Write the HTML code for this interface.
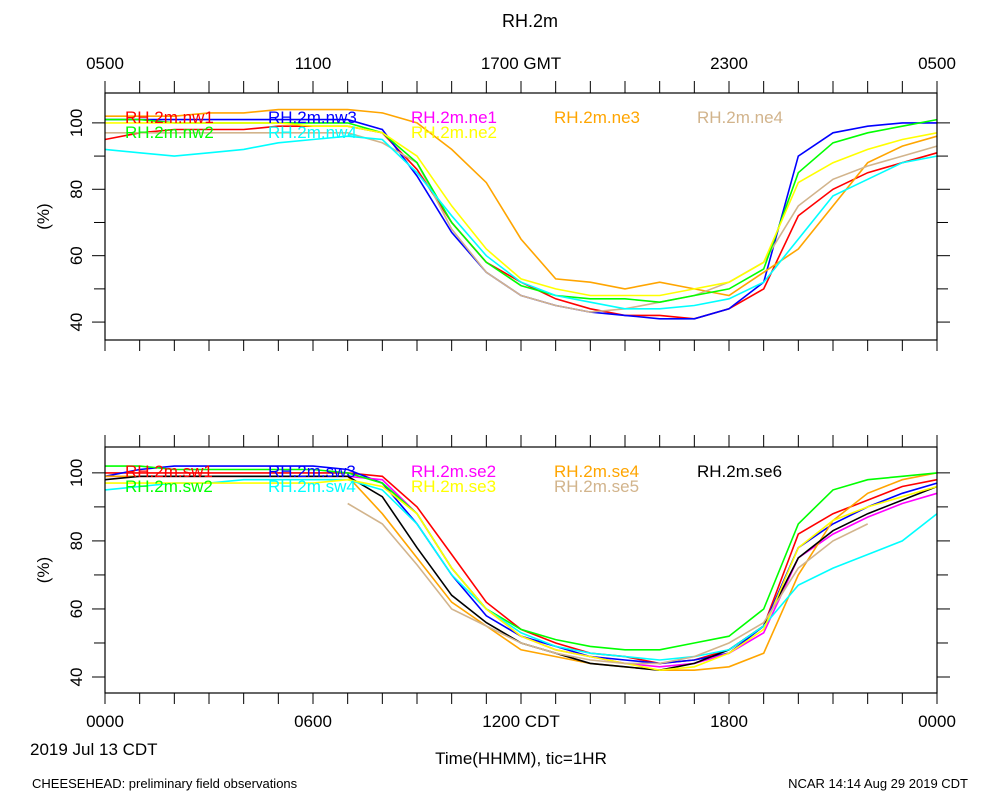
<!DOCTYPE html>
<html><head><meta charset="utf-8"><style>
body{margin:0;background:#fff;}
svg text{font-family:"Liberation Sans",sans-serif;}
</style></head><body>
<svg id="chart" width="1000" height="800" xmlns="http://www.w3.org/2000/svg">
<text x="530" y="27" font-size="18" text-anchor="middle">RH.2m</text>
<g id="topAxis"></g>
<g id="p1"></g><g id="p2"></g>
<text x="30" y="755" font-size="17">2019 Jul 13 CDT</text>
<text x="521" y="764" font-size="17" text-anchor="middle">Time(HHMM), tic=1HR</text>
<text x="32" y="788" font-size="13">CHEESEHEAD: preliminary field observations</text>
<text x="968" y="788" font-size="13" text-anchor="end">NCAR 14:14 Aug 29 2019 CDT</text>
</svg>
<script>
const hours=[0,1,2,3,4,5,6,7,8,9,10,11,12,13,14,15,16,17,18,19,20,21,22,23,24];
const bottomTickLabels=["0000","0600","1200 CDT","1800","0000"];
const topTickLabels=["0500","1100","1700 GMT","2300","0500"];
const yTicks=[40,60,80,100];
const yMinorTicks=[50,70,90];
const topNames=["RH.2m.nw1","RH.2m.nw3","RH.2m.ne1","RH.2m.ne3","RH.2m.ne4","RH.2m.nw2","RH.2m.nw4","RH.2m.ne2"];
const topColors=["#ff0000","#0000ff","#ff00ff","#ffa500","#d2b48c","#00ff00","#00ffff","#ffff00"];
const nw1=[95,97,98,98,98,99,99,99,97,86,70,58,52,47,44,42,42,41,44,50,72,80,85,88,91];
const nw3=[101,101,101,101,101,101,101,101,98,84,67,55,48,45,43,42,41,41,44,52,90,97,99,100,100];
const ne1=[null,null,null,null,null,null,null,null,null,null,null,null,null,null,null,null,null,null,null,null,null,null,null,null,null];
const ne3=[102,102,102,103,103,104,104,104,103,100,92,82,65,53,52,50,52,50,48,55,62,75,88,93,96];
const ne4=[97,97,97,97,97,97,97,97,94,88,68,55,48,45,43,44,46,48,52,58,75,83,87,90,93];
const nw2=[101,101,100,100,100,100,100,100,97,88,70,58,51,48,47,47,46,48,50,56,85,94,97,99,101];
const nw4=[92,91,90,91,92,94,95,96,95,85,72,60,52,48,46,44,44,45,47,52,65,78,83,88,90];
const ne2=[100,100,100,100,100,100,99,99,97,90,75,62,53,50,48,48,48,50,52,58,82,88,92,95,97];
const botNames=["RH.2m.sw1","RH.2m.sw3","RH.2m.se2","RH.2m.se4","RH.2m.se6","RH.2m.sw2","RH.2m.sw4","RH.2m.se3","RH.2m.se5"];
const botColors=["#ff0000","#0000ff","#ff00ff","#ffa500","#000000","#00ff00","#00ffff","#ffff00","#d2b48c"];
const sw1=[100,100,100,100,100,100,100,100,99,90,76,62,54,50,47,46,44,45,48,55,82,88,92,96,98];
const sw3=[99,101,102,102,102,102,102,101,97,85,70,58,52,49,46,45,44,45,47,55,78,85,90,94,97];
const se2=[99,99,99,99,99,99,99,99,98,88,72,60,52,48,46,44,43,44,47,53,75,82,87,91,94];
const se4=[99,99,99,99,99,99,99,99,88,75,62,55,48,46,44,43,42,42,43,47,70,86,94,98,100];
const se6=[98,99,99,99,99,99,99,99,93,78,64,56,50,47,44,43,42,44,48,55,75,83,88,92,96];
const sw2=[102,102,101,101,101,101,101,100,97,88,72,60,54,51,49,48,48,50,52,60,85,95,98,99,100];
const sw4=[95,96,97,97,98,98,98,98,95,85,70,60,53,49,47,46,45,46,48,55,67,72,76,80,88];
const se3=[97,97,97,97,97,97,97,98,96,88,72,60,52,48,46,44,42,43,47,54,78,86,90,93,96];
const se5=[null,null,null,null,null,null,null,91,85,73,60,55,50,47,45,44,44,46,50,56,72,80,85,null,null];
const topSeries=[nw1,nw3,ne1,ne3,ne4,nw2,nw4,ne2];
const botSeries=[sw1,sw3,se2,se4,se6,sw2,sw4,se3,se5];

const NS="http://www.w3.org/2000/svg";
const X0=105,X1=937;
function xs(h){return X0+(X1-X0)*h/24;}
function mk(parent,tag,attrs){const e=document.createElementNS(NS,tag);for(const k in attrs)e.setAttribute(k,attrs[k]);parent.appendChild(e);return e;}

function panel(g,top,bot,ymin,ymax,names,colors,series,legY,pname){
  const ys=v=>bot-(v-ymin)/(ymax-ymin)*(bot-top);
  for(let h=0;h<=24;h++){
    const t1=mk(g,'line',{x1:xs(h),x2:xs(h),y1:top,y2:top-12,stroke:'#000'});
    
    
    const t2=mk(g,'line',{x1:xs(h),x2:xs(h),y1:bot,y2:bot+11,stroke:'#000'});
    
    
  }
  yMinorTicks.forEach(v=>{
    const l=mk(g,'line',{x1:X0-11,x2:X0,y1:ys(v),y2:ys(v),stroke:'#000'});
    
    
    const r=mk(g,'line',{x1:X1,x2:X1+11,y1:ys(v),y2:ys(v),stroke:'#000'});
    
    
  });
  yTicks.forEach(v=>{
    const l=mk(g,'line',{x1:X0-13,x2:X0,y1:ys(v),y2:ys(v),stroke:'#000'});
    
    
    const r=mk(g,'line',{x1:X1,x2:X1+13,y1:ys(v),y2:ys(v),stroke:'#000'});
    
    
    const t=mk(g,'text',{x:X0-23,y:ys(v),'font-size':17,'text-anchor':'middle',transform:`rotate(-90 ${X0-23} ${ys(v)})`});
    t.textContent=v;
    
    
  });
  const yl=mk(g,'text',{x:49,y:(top+bot)/2,'font-size':17,'text-anchor':'middle',transform:`rotate(-90 49 ${(top+bot)/2})`});
  yl.textContent='(%)';
  
  
  series.forEach((s,i)=>{
    let d='',pen=false;
    s.forEach((v,j)=>{if(v==null){pen=false;return;}d+=(pen?'L':'M')+xs(hours[j]).toFixed(1)+','+ys(v).toFixed(1);pen=true;});
    if(d){const p=mk(g,'path',{d:d,fill:'none',stroke:colors[i],'stroke-width':1.6});
    
    }
  });
  names.forEach((n,i)=>{
    const col=i%5,row=Math.floor(i/5);
    const t=mk(g,'text',{x:125+col*143,y:legY+row*15,'font-size':17,fill:colors[i]});
    t.textContent=n;
    
    
  });
  const fr=mk(g,'rect',{x:X0,y:top,width:X1-X0,height:bot-top,fill:'none',stroke:'#000','stroke-width':1.2});
  
  
}
panel(document.getElementById('p1'),93,340,34.6,109,topNames,topColors,topSeries,123,'top-panel');
panel(document.getElementById('p2'),447,693,35.3,107.6,botNames,botColors,botSeries,477,'bottom-panel');
const ax=document.getElementById('topAxis');
topTickLabels.forEach((s,i)=>{
  const t=mk(ax,'text',{x:xs(i*6),y:69,'font-size':17,'text-anchor':'middle'});
  t.textContent=s;
  
  
});
bottomTickLabels.forEach((s,i)=>{
  const t=mk(ax,'text',{x:xs(i*6),y:727,'font-size':17,'text-anchor':'middle'});
  t.textContent=s;
  
  
});
</script>
</body></html>
